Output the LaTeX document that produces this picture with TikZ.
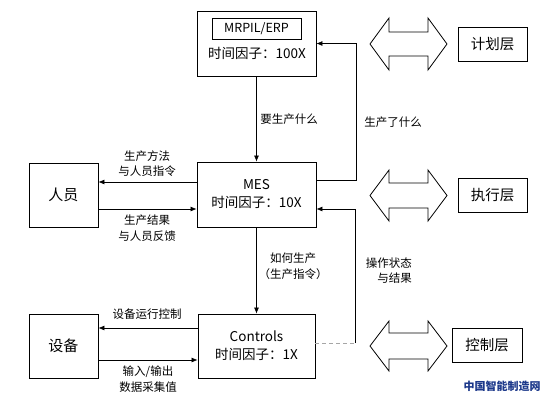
\documentclass[tikz,border=0pt]{standalone}
\usepackage{fontspec}
\setmainfont{Noto Sans CJK SC}
\usetikzlibrary{arrows.meta}
\definecolor{wmblue}{RGB}{28,56,138}
\tikzset{
  x=1pt, y=-1pt,
  box/.style={draw=black, line width=0.8pt, inner sep=0pt, align=center, font=\fontsize{13.5}{18}\selectfont},
  sidebox/.style={draw=black, line width=0.8pt, inner sep=0pt, align=center, font=\fontsize{14.5}{18}\selectfont},
  lbl/.style={inner sep=0pt, align=center, font=\fontsize{11.5}{15.5}\selectfont},
  arr/.style={line width=0.7pt, -{Latex[length=6pt,width=5pt]}},
  ln/.style={line width=0.7pt},
  faint/.style={line width=0.7pt, draw=black!35, dash pattern=on 4pt off 3pt},
  dbl/.style={draw=black, line width=0.8pt, line join=miter}
}
\begin{document}
\begin{tikzpicture}
\useasboundingbox (0,0) rectangle (547,402);
% main boxes
\node[box, minimum width=119pt, minimum height=65pt] (erp) at (256.5,43.5) {};
\node[box, minimum width=89pt, minimum height=21pt, font=\fontsize{12.5}{15}\selectfont] (erpin) at (256.5,28.5) {MRPIL/ERP};
\node[inner sep=0pt, font=\fontsize{13.5}{18}\selectfont] (erptxt) at (257,53) {时间因子：100X};
\node[box, minimum width=119pt, minimum height=65pt] (mes) at (256.5,194.5) {MES\\时间因子：10X};
\node[box, minimum width=117pt, minimum height=64pt] (ctrl) at (256.5,346) {Controls\\时间因子：1X};
\node[box, minimum width=69pt, minimum height=64pt, font=\fontsize{15}{18}\selectfont] (people) at (63.5,195) {人员};
\node[box, minimum width=69pt, minimum height=64pt, font=\fontsize{15}{18}\selectfont] (equip) at (63.5,346) {设备};
% layer boxes
\node[sidebox, minimum width=69pt, minimum height=34pt] (plan) at (492.5,44) {计划层};
\node[sidebox, minimum width=69pt, minimum height=34pt] (exec) at (492.5,195) {执行层};
\node[sidebox, minimum width=70pt, minimum height=34pt] (ctl) at (487,345) {控制层};
% double arrows
\draw[dbl] (370,44) -- (389,18) -- (389,32) -- (428,32) -- (428,18) -- (447,44) -- (428,70) -- (428,56) -- (389,56) -- (389,70) -- cycle;
\draw[dbl] (370,195.5) -- (389,170) -- (389,183) -- (428,183) -- (428,170) -- (447,195.5) -- (428,221) -- (428,208) -- (389,208) -- (389,221) -- cycle;
\draw[dbl] (370,346) -- (389,321) -- (389,333) -- (428,333) -- (428,321) -- (447,346) -- (428,371) -- (428,359) -- (389,359) -- (389,371) -- cycle;
% vertical arrows
\draw[arr] (erp.south) -- (mes.north);
\draw[arr] (mes.south) -- (ctrl.north);
% feedback lines
\coordinate (r1) at (356,180);
\draw[arr] ([yshift=14.5pt]mes.east) -- (r1) |- (erp.east);
\coordinate (c1) at (355,343);
\coordinate (c2) at (355,209);
\draw[faint] ([yshift=3pt]ctrl.east) -- (c1);
\draw[arr] (c1) -- (c2) -- ([yshift=-14.5pt]mes.east);
% horizontal arrows
\draw[arr] ([yshift=12.5pt]mes.west) -- ([yshift=13pt]people.east);
\draw[arr] ([yshift=-14pt]people.east) -- ([yshift=-14.5pt]mes.west);
\draw[arr] ([yshift=18pt]ctrl.west) -- ([yshift=18pt]equip.west -| equip.east);
\draw[arr] ([yshift=-14pt]equip.east) -- ([yshift=-14pt]ctrl.west);
% labels
\node[lbl] (l1) at (289,119) {要生产什么};
\node[lbl] (l2) at (393,122) {生产了什么};
\node[lbl] (l3) at (147,163.5) {生产方法\\与人员指令};
\node[lbl] (l4) at (147,228) {生产结果\\与人员反馈};
\node[lbl] (l5) at (293,266) {如何生产\\（生产指令）};
\node[lbl, align=right, anchor=east] (l6) at (412,270.5) {操作状态\\与结果};
\node[lbl] (l7) at (147,314) {设备运行控制};
\node[lbl] (l8) at (148,379) {输入/输出\\数据采集值};
% watermark
\node[inner sep=0pt, font=\fontsize{11}{13}\selectfont\bfseries, text=wmblue] (wm) at (502,386) {中国智能制造网};
\end{tikzpicture}
\end{document}
